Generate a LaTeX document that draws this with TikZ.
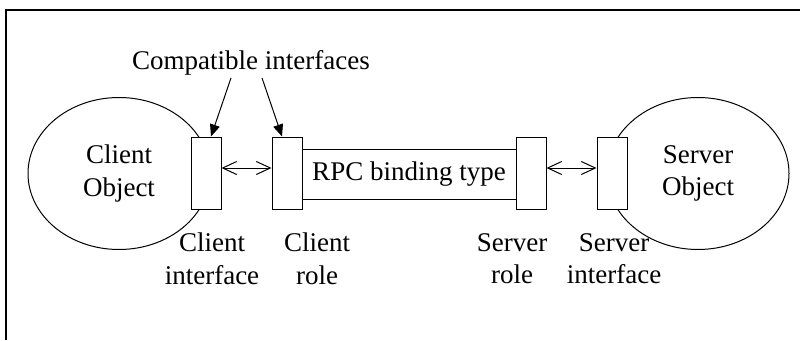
\documentclass[tikz,border=0pt]{standalone}
\usepackage{fontspec}
\setmainfont{Liberation Serif}
\usetikzlibrary{arrows.meta,shapes.geometric}
\begin{document}
\begin{tikzpicture}[x=1pt,y=-1pt,
  font=\fontsize{27}{32.5}\selectfont,
  obj/.style={ellipse, draw, line width=1pt, minimum width=182pt,
    minimum height=152pt, inner sep=0pt, align=center},
  port/.style={draw, fill=white, line width=1pt, minimum width=30pt,
    minimum height=72pt, inner sep=0pt},
  binding/.style={draw, line width=1pt, minimum width=214pt,
    minimum height=50pt, inner sep=0pt},
  lbl/.style={inner sep=0pt, align=center},
  link/.style={line width=1pt,
    {Straight Barb[length=14pt,width=13pt]}-{Straight Barb[length=14pt,width=13pt]}},
  pointer/.style={line width=1pt, -{Triangle[length=12pt,width=10pt]}},
  frameline/.style={line width=2pt}]
\useasboundingbox (0,0) rectangle (800,340);

% frame
\draw[frameline] (800,10) -- (6,10) -- (6,340);

% objects
\node[obj] (co) at (119,173.5) {Client\\Object};
\node[obj] (so) at (698,173.5) {Server\\Object};

% binding between the two roles
\node[binding] (rpc) at (409,174) {RPC binding type};

% interfaces and roles
\node[port] (ci) at (206,173) {};
\node[port] (cr) at (287,173) {};
\node[port] (sr) at (531,173) {};
\node[port] (si) at (612,173) {};

\draw[link] ([yshift=5pt]ci.east) -- ([yshift=5pt]cr.west);
\draw[link] ([yshift=5pt]sr.east) -- ([yshift=5pt]si.west);

% compatibility note
\node[lbl, anchor=base] (cmp) at (251,69) {Compatible interfaces};
\draw[pointer] ([xshift=-20pt,yshift=-3pt]cmp.south) -- ([xshift=5pt]ci.north);
\draw[pointer] ([xshift=11pt,yshift=-3pt]cmp.south) -- ([xshift=-5pt]cr.north);

% captions
\node[lbl, anchor=north] (cil) at (212,233) {Client\\interface};
\node[lbl, anchor=north] (crl) at (317,233) {Client\\role};
\node[lbl, anchor=north] (srl) at (512,233) {Server\\role};
\node[lbl, anchor=north] (sil) at (614,233) {Server\\interface};
\end{tikzpicture}
\end{document}
